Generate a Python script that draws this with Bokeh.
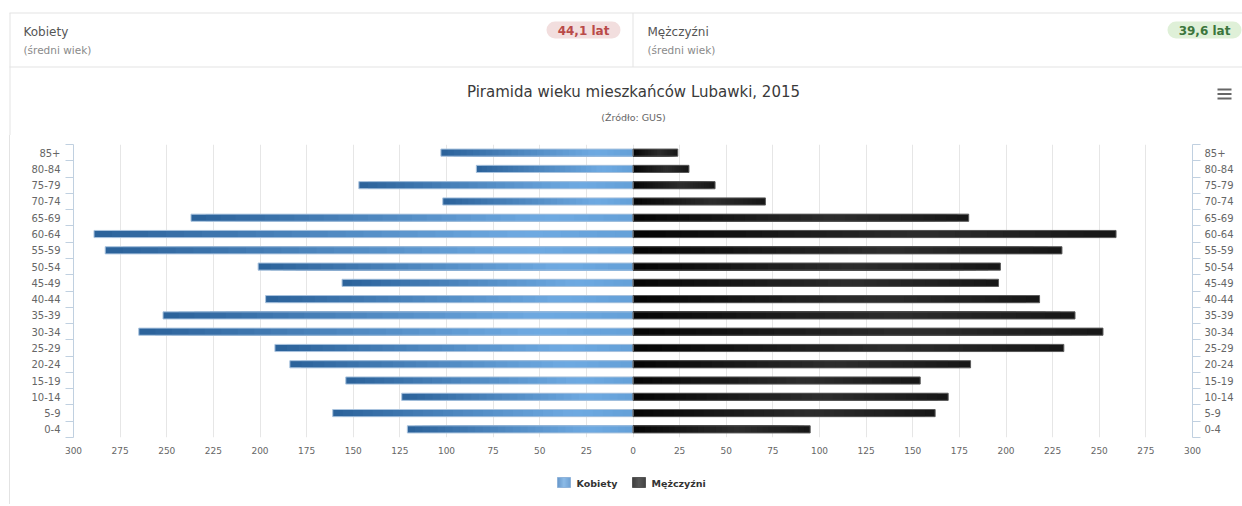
import numpy as np
from bokeh.plotting import figure
from bokeh.models import Range1d, LinearAxis, FixedTicker, ColumnDataSource
from bokeh.layouts import column
from bokeh.core.properties import value
from bokeh.embed import file_html
from bokeh.resources import INLINE

# ---------------- data ----------------
groups = ["0-4", "5-9", "10-14", "15-19", "20-24", "25-29", "30-34", "35-39", "40-44",
          "45-49", "50-54", "55-59", "60-64", "65-69", "70-74", "75-79", "80-84", "85+"]
women = [121, 161, 124, 154, 184, 192, 265, 252, 197, 156, 201, 283, 289, 237, 102, 147, 84, 103]
men = [95, 162, 169, 154, 181, 231, 252, 237, 218, 196, 197, 230, 259, 180, 71, 44, 30, 24]
x_ticks = list(range(-300, 301, 25))
women_label = "Kobiety"
men_label = "Mężczyźni"
women_avg = "44,1 lat"
men_avg = "39,6 lat"
avg_note = "(średni wiek)"
title_text = "Piramida wieku mieszkańców Lubawki, 2015"
subtitle_text = "(Źródło: GUS)"

FONT = "DejaVu Sans"
W = 1242
LINE = "#e3e3e3"
LEFT_LINE_CSS = {"background": "linear-gradient(to right, transparent 9px, #e3e3e3 9px, "
                               "#e3e3e3 10px, transparent 10px)"}


def blank(fig):
    fig.frame_align = False
    fig.grid.visible = False
    fig.outline_line_color = None
    fig.background_fill_color = None
    fig.border_fill_color = None


# ---------------- header figure (pixel coordinates) ----------------
HH = 135
hdr = figure(width=W, height=HH, x_range=Range1d(0, W), y_range=Range1d(HH, 0),
             output_backend="svg", toolbar_location=None, min_border=0,
             x_axis_location=None, y_axis_location=None)
blank(hdr)

hdr.segment(x0=[9, 9, 632.5, 9.5], y0=[12.5, 66.5, 12.5, 12.5],
            x1=[W, W, 632.5, 9.5], y1=[12.5, 66.5, 66.5, HH],
            line_color=LINE, line_width=1)

# badges
hdr.quad(left=[546, 1167], right=[620, 1241], top=[21, 21], bottom=[38, 38],
         fill_color=["#f2dede", "#dff0d8"], line_color=None, border_radius=9)
hdr.text(x=[583, 1204], y=[30, 30], text=[women_avg, men_avg],
         text_color=["#b94a48", "#3c763d"], text_font=value(FONT), text_font_style="bold",
         text_font_size="12px", text_align="center", text_baseline="middle")

hdr.text(x=[23, 647], y=[31, 31], text=[women_label, men_label], text_color="#555555",
         text_font=value(FONT), text_font_size="12px", text_baseline="middle")
hdr.text(x=[23, 647], y=[49.5, 49.5], text=[avg_note, avg_note], text_color="#8a8a8a",
         text_font=value(FONT), text_font_size="10.5px", text_baseline="middle")

hdr.text(x=[633], y=[91], text=[title_text], text_color="#3a3a3a", text_font=value(FONT),
         text_font_size="15px", text_align="center", text_baseline="middle")
hdr.text(x=[633], y=[117], text=[subtitle_text], text_color="#666666", text_font=value(FONT),
         text_font_size="9.5px", text_align="center", text_baseline="middle")

# menu icon
hdr.segment(x0=[1217, 1217, 1217], y0=[89, 93.5, 98], x1=[1231, 1231, 1231], y1=[89, 93.5, 98],
            line_color="#666666", line_width=2)

# ---------------- chart figure ----------------
CH = 337
p = figure(width=W, height=CH, x_range=Range1d(-300, 300), y_range=Range1d(-0.5, 17.5),
           output_backend="svg", toolbar_location=None,
           min_border_left=73, min_border_right=50, min_border_top=9, min_border_bottom=35,
           x_axis_location="below", y_axis_location="left", styles=LEFT_LINE_CSS)
p.frame_align = False
p.outline_line_color = None
p.border_fill_color = None
p.background_fill_color = "white"
p.ygrid.visible = False
p.xgrid.grid_line_color = "#e6e6e6"


def hex2rgb(h):
    h = h.lstrip("#")
    return np.array([int(h[i:i + 2], 16) for i in (0, 2, 4)], dtype=float)


def grad(stops, t):
    ts = [s[0] for s in stops]
    cs = np.array([hex2rgb(s[1]) for s in stops])
    rgb = [np.interp(t, ts, cs[:, c]) for c in range(3)]
    return "#%02x%02x%02x" % tuple(int(round(v)) for v in rgb)


K = 30
w_stops = [(0.0, "#64a0d8"), (0.2, "#6eaae2"), (1.0, "#2b6199")]
m_stops = [(0.0, "#050505"), (0.6, "#2d2d2d"), (1.0, "#161616")]


def slices(vals, sign, stops):
    ys, lefts, rights, cols = [], [], [], []
    for i, v in enumerate(vals):
        for k in range(K):
            outer = v * (K - k) / K
            t = (K - k - 0.5) / K
            ys.append(i)
            if sign < 0:
                lefts.append(-outer)
                rights.append(0)
            else:
                lefts.append(0)
                rights.append(outer)
            cols.append(grad(stops, t))
    return ColumnDataSource(dict(y=ys, left=lefts, right=rights, color=cols))


BH = 0.44
sw = slices(women, -1, w_stops)
sm = slices(men, 1, m_stops)
p.hbar(y="y", left="left", right="right", height=BH, fill_color="color", line_color=None, source=sw)
p.hbar(y="y", left="left", right="right", height=BH, fill_color="color", line_color=None, source=sm)

idx = list(range(len(groups)))
p.hbar(y=idx, left=[-v for v in women], right=0, height=BH, fill_color=None,
       line_color="#a9c3de", line_width=1)
p.hbar(y=idx, left=0, right=men, height=BH, fill_color=None,
       line_color="#595959", line_width=1)

# axes
label_map = {i: g for i, g in enumerate(groups)}
minor = [i - 0.5 for i in range(len(groups) + 1)]


def style_cat_axis(ax, standoff):
    ax.ticker = FixedTicker(ticks=idx, minor_ticks=minor)
    ax.major_label_overrides = label_map
    ax.axis_line_color = "#C0D0E0"
    ax.major_tick_line_color = None
    ax.major_tick_out = 0
    ax.major_tick_in = 0
    ax.minor_tick_line_color = "#C0D0E0"
    ax.minor_tick_out = 8
    ax.minor_tick_in = 0
    ax.major_label_standoff = standoff
    ax.major_label_text_font = FONT
    ax.major_label_text_font_size = "10px"
    ax.major_label_text_color = "#666666"


style_cat_axis(p.yaxis[0], 5)
yr = LinearAxis()
style_cat_axis(yr, 4)
p.add_layout(yr, "right")

xax = p.xaxis[0]
xax.ticker = FixedTicker(ticks=x_ticks)
xax.major_label_overrides = {t: str(abs(t)) for t in x_ticks}
xax.axis_line_color = None
xax.major_tick_line_color = None
xax.minor_tick_line_color = None
xax.major_tick_out = 0
xax.major_tick_in = 0
xax.minor_tick_out = 0
xax.minor_tick_in = 0
xax.major_label_standoff = 9
xax.major_label_text_font = FONT
xax.major_label_text_font_size = "9px"
xax.major_label_text_color = "#666666"

# ---------------- footer with legend (pixel coordinates) ----------------
FH = 32
ft = figure(width=W, height=FH, x_range=Range1d(0, W), y_range=Range1d(FH, 0),
            output_backend="svg", toolbar_location=None, min_border=0,
            x_axis_location=None, y_axis_location=None, styles=LEFT_LINE_CSS)
blank(ft)

# legend swatches with a small gradient, drawn from left to right
SK = 13
sx0 = []
sw_x = [557, 632]
sw_cols = []
sw_stops = [[(0.0, "#3a76b8"), (0.5, "#6aa6e0"), (1.0, "#4684c6")],
            [(0.0, "#050505"), (0.5, "#262626"), (1.0, "#0c0c0c")]]
for x0, st in zip(sw_x, sw_stops):
    for k in range(SK):
        sx0.append(x0 + k)
        sw_cols.append(grad(st, (k + 0.5) / SK))
ft.quad(left=sx0, right=[x + 1.05 for x in sx0], top=5, bottom=15, fill_color=sw_cols, line_color=None)
ft.quad(left=sw_x, right=[x + 13 for x in sw_x], top=5, bottom=15, fill_color=None,
        line_color=["#8fb3da", "#555555"], line_width=1)
ft.text(x=[576, 651], y=[10.5, 10.5], text=[women_label, men_label], text_color="#333333",
        text_font=value(FONT), text_font_style="bold", text_font_size="9.5px",
        text_baseline="middle")

layout = column(hdr, p, ft, spacing=0)
open("out.html", "w").write(file_html(layout, INLINE))
